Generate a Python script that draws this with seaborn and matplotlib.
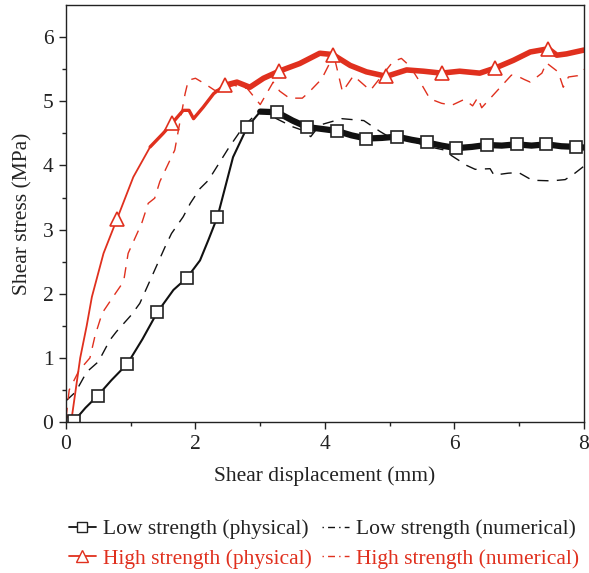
import numpy as np
import pandas as pd
import matplotlib
matplotlib.use("Agg")
import matplotlib.pyplot as plt
import seaborn as sns
from matplotlib.lines import Line2D

# ---------------- data ----------------
low_phys_x = [0.05, 0.13, 0.30, 0.49, 0.70, 0.95, 1.18, 1.41, 1.66, 1.87, 2.07, 2.20, 2.34,
              2.58, 2.80, 3.00, 3.26, 3.50, 3.72, 3.95, 4.18, 4.41, 4.64, 4.88, 5.11, 5.34,
              5.57, 5.80, 6.03, 6.27, 6.50, 6.73, 6.96, 7.19, 7.42, 7.65, 7.88, 8.00]
low_phys_y = [0.00, 0.02, 0.22, 0.41, 0.65, 0.91, 1.29, 1.71, 2.06, 2.25, 2.52, 2.84, 3.20,
              4.13, 4.60, 4.84, 4.83, 4.70, 4.60, 4.57, 4.54, 4.47, 4.42, 4.43, 4.45, 4.40,
              4.36, 4.31, 4.27, 4.29, 4.32, 4.31, 4.33, 4.31, 4.33, 4.30, 4.29, 4.28]
low_phys_marks = [0.13, 0.49, 0.95, 1.41, 1.87, 2.34, 2.80, 3.26, 3.72, 4.18, 4.64, 5.11,
                  5.57, 6.03, 6.50, 6.96, 7.42, 7.88]

high_phys_x = [0.00, 0.08, 0.22, 0.32, 0.40, 0.58, 0.79, 1.04, 1.30, 1.50, 1.64, 1.81, 1.90,
               1.97, 2.12, 2.28, 2.45, 2.64, 2.84, 3.05, 3.29, 3.61, 3.92, 4.12, 4.39, 4.64,
               4.95, 5.26, 5.52, 5.80, 6.08, 6.39, 6.63, 6.91, 7.17, 7.45, 7.58, 7.73, 8.00]
high_phys_y = [0.12, 0.00, 1.00, 1.50, 1.95, 2.63, 3.17, 3.82, 4.29, 4.50, 4.66, 4.86, 4.86,
               4.73, 4.91, 5.12, 5.25, 5.30, 5.22, 5.36, 5.47, 5.59, 5.75, 5.73, 5.56, 5.46,
               5.39, 5.49, 5.47, 5.44, 5.47, 5.44, 5.52, 5.64, 5.77, 5.82, 5.72, 5.74, 5.80]
high_phys_marks = [0.79, 1.64, 2.45, 3.29, 4.12, 4.95, 5.80, 6.63, 7.45]

low_num_x = [0.00, 0.15, 0.32, 0.50, 0.68, 0.78, 1.01, 1.14, 1.30, 1.53, 1.63, 1.81, 1.92,
             2.07, 2.20, 2.38, 2.51, 2.75, 3.00, 3.27, 3.51, 3.65, 3.78, 3.92, 4.26, 4.60,
             4.85, 4.95, 5.30, 5.57, 5.85, 5.96, 6.19, 6.32, 6.55, 6.61, 6.83, 6.99, 7.20,
             7.50, 7.71, 7.86, 8.00]
low_num_y = [0.33, 0.47, 0.78, 0.94, 1.28, 1.41, 1.67, 1.85, 2.21, 2.73, 2.94, 3.20, 3.41,
             3.64, 3.77, 4.06, 4.27, 4.62, 4.86, 4.72, 4.60, 4.55, 4.45, 4.63, 4.73, 4.70,
             4.53, 4.47, 4.40, 4.30, 4.24, 4.15, 4.00, 3.94, 3.95, 3.85, 3.88, 3.89, 3.77,
             3.76, 3.78, 3.88, 3.99]

high_num_x = [0.00, 0.05, 0.20, 0.37, 0.45, 0.56, 0.76, 0.89, 0.96, 1.17, 1.27, 1.37, 1.45,
              1.68, 1.84, 1.89, 2.00, 2.15, 2.30, 2.60, 2.80, 3.00, 3.20, 3.30, 3.45, 3.65,
              3.75, 3.95, 4.10, 4.16, 4.27, 4.44, 4.70, 5.05, 5.18, 5.31, 5.50, 5.62, 5.80,
              5.96, 6.15, 6.28, 6.36, 6.42, 6.60, 6.88, 7.00, 7.08, 7.17, 7.35, 7.42, 7.60,
              7.68, 7.76, 7.90, 8.00]
high_num_y = [0.05, 0.50, 0.80, 1.00, 1.35, 1.70, 2.00, 2.19, 2.63, 3.10, 3.41, 3.49, 3.75,
              4.24, 5.12, 5.33, 5.36, 5.27, 5.17, 5.25, 5.20, 4.95, 5.30, 5.16, 5.05, 5.05,
              5.14, 5.35, 5.65, 5.62, 5.15, 5.40, 5.17, 5.62, 5.67, 5.55, 5.25, 5.04, 4.97,
              4.94, 5.03, 4.93, 5.06, 4.90, 5.10, 5.41, 5.38, 5.34, 5.30, 5.44, 5.60, 5.46,
              5.22, 5.38, 5.40, 5.50]

labels = ["Low strength (physical)", "High strength (physical)",
          "Low strength (numerical)", "High strength (numerical)"]

RED = "#E0301E"
BLACK = "#111111"
TXT = "#222222"

# ---------------- style ----------------
sns.set_style("ticks")
plt.rcParams["font.family"] = ["Liberation Serif", "DejaVu Serif"]

FS = 15.5

fig = plt.figure(figsize=(5.89, 5.73), dpi=100)
ax = fig.add_axes([0.112, 0.2635, 0.8795, 0.7275])

lp = pd.DataFrame({"x": low_phys_x, "y": low_phys_y})
hp = pd.DataFrame({"x": high_phys_x, "y": high_phys_y})
ln = pd.DataFrame({"x": low_num_x, "y": low_num_y})
hn = pd.DataFrame({"x": high_num_x, "y": high_num_y})

# numerical (dashed)
sns.lineplot(data=ln, x="x", y="y", ax=ax, color=BLACK, lw=1.0, sort=False,
             estimator=None, linestyle=(0, (8, 6)))
sns.lineplot(data=hn, x="x", y="y", ax=ax, color=RED, lw=1.0, sort=False,
             estimator=None, linestyle=(0, (8, 6)))

# noisy band of the physical curves (thicker stroke where the record is noisy)
sns.lineplot(data=hp[(hp.x >= 1.3) & (hp.x <= 2.5)], x="x", y="y", ax=ax, color=RED,
             lw=2.4, sort=False, estimator=None, solid_joinstyle="round")
sns.lineplot(data=hp[hp.x >= 2.4], x="x", y="y", ax=ax, color=RED, lw=4.0,
             sort=False, estimator=None, solid_joinstyle="round")
sns.lineplot(data=lp[lp.x >= 2.9], x="x", y="y", ax=ax, color=BLACK, lw=4.5,
             sort=False, estimator=None, solid_joinstyle="round")

# physical curves with markers
lp_idx = [i for i, v in enumerate(low_phys_x) if v in low_phys_marks]
hp_idx = [i for i, v in enumerate(high_phys_x) if v in high_phys_marks]
sns.lineplot(data=hp, x="x", y="y", ax=ax, color=RED, lw=1.3, sort=False,
             estimator=None, marker="^", markersize=9.5, markerfacecolor="white",
             markeredgecolor=RED, markeredgewidth=1.2, markevery=hp_idx)
sns.lineplot(data=lp, x="x", y="y", ax=ax, color=BLACK, lw=1.5, sort=False,
             estimator=None, marker="s", markersize=8.5, markerfacecolor="white",
             markeredgecolor=TXT, markeredgewidth=1.2, markevery=lp_idx)

ax.set_xlim(0, 8)
ax.set_ylim(0, 6.5)
ax.set_xticks([0, 2, 4, 6, 8])
ax.set_xticks([1, 3, 5, 7], minor=True)
ax.set_yticks([0, 1, 2, 3, 4, 5, 6])
ax.set_yticks(np.arange(0.5, 6.5, 1.0), minor=True)
ax.tick_params(which="major", direction="out", length=5, width=1, labelsize=FS,
               colors=TXT, pad=4)
ax.tick_params(which="minor", direction="out", length=3, width=1, colors=TXT)
for s in ax.spines.values():
    s.set_visible(True)
    s.set_linewidth(1.0)
    s.set_color(TXT)

ax.set_xlabel("Shear displacement (mm)", fontsize=FS, labelpad=9, color=TXT)
ax.set_ylabel("Shear stress (MPa)", fontsize=FS, labelpad=7, color=TXT)

# legend
h_lp = Line2D([], [], color=BLACK, lw=1.3, marker="s", markersize=7,
              markerfacecolor="white", markeredgecolor=TXT)
h_hp = Line2D([], [], color=RED, lw=1.3, marker="^", markersize=8,
              markerfacecolor="white", markeredgecolor=RED)
h_ln = Line2D([], [], color=BLACK, lw=1.0, linestyle=(0, (1, 3, 5, 3)))
h_hn = Line2D([], [], color=RED, lw=1.0, linestyle=(0, (1, 3, 5, 3)))
fig.legend([h_lp, h_hp, h_ln, h_hn], labels, ncol=2, loc="upper left",
           bbox_to_anchor=(0.117, 0.094), frameon=False, fontsize=FS,
           handlelength=1.25, handletextpad=0.35, columnspacing=0.45,
           labelspacing=0.45, borderaxespad=0, borderpad=0,
           labelcolor=[TXT, RED, TXT, RED])

fig.savefig("out.png", dpi=100)
